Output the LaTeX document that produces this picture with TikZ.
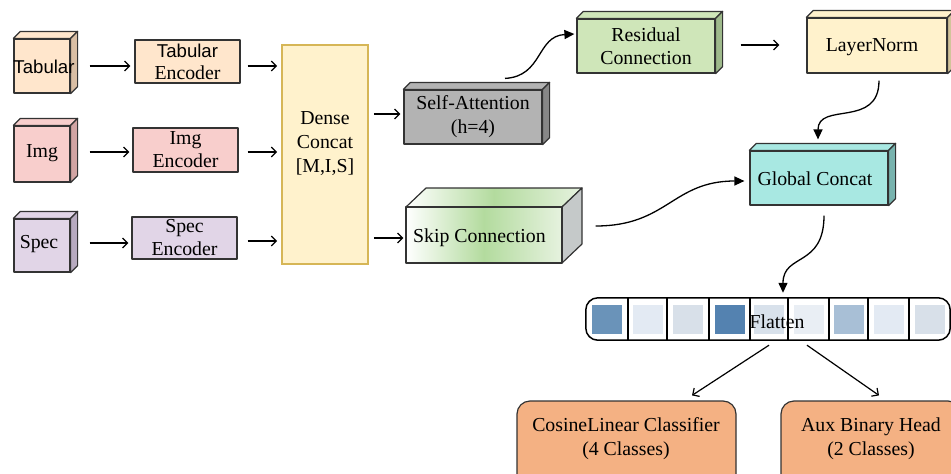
\documentclass[tikz,border=0pt]{standalone}
\usepackage{fontspec}
\setmainfont{Liberation Serif}
\newfontfamily\arialfont{Liberation Sans}
\usetikzlibrary{arrows.meta,calc}

\definecolor{strokec}{HTML}{333333}
\definecolor{tabF}{HTML}{FFE6CC}
\definecolor{tabS}{HTML}{D9BEA4}
\definecolor{imgF}{HTML}{F8CECC}
\definecolor{imgS}{HTML}{D1A4A3}
\definecolor{specF}{HTML}{E1D5E7}
\definecolor{specS}{HTML}{B7AABF}
\definecolor{denseF}{HTML}{FFF2CC}
\definecolor{denseD}{HTML}{D6B656}
\definecolor{saF}{HTML}{B3B3B3}
\definecolor{saS}{HTML}{878787}
\definecolor{resF}{HTML}{CFE6B9}
\definecolor{resS}{HTML}{9EB98B}
\definecolor{lnF}{HTML}{FFF2CC}
\definecolor{lnS}{HTML}{D2C49A}
\definecolor{globF}{HTML}{A8E8E2}
\definecolor{globS}{HTML}{78B3AE}
\definecolor{skipM}{HTML}{B3DB9E}
\definecolor{skipR}{HTML}{E6F2DF}
\definecolor{skipS}{HTML}{C5C9C9}
\definecolor{headF}{HTML}{F4B183}
\definecolor{sqA}{HTML}{6A93B9}
\definecolor{sqB}{HTML}{E3EAF3}
\definecolor{sqC}{HTML}{D8E0E9}
\definecolor{sqD}{HTML}{5482B0}
\definecolor{sqE}{HTML}{D8E1EB}
\definecolor{sqF}{HTML}{E9EEF4}
\definecolor{sqG}{HTML}{A8BFD6}

% top and right faces of a block drawn behind a front-face node
\newcommand\cubefaces[4]{%
  \draw[boxline, fill=#3] (#1.north west) -- ++(#2,-#2)
    -- ([shift={(#2,-#2)}]#1.north east) -- (#1.north east) -- cycle;
  \draw[boxline, fill=#4] (#1.north east) -- ++(#2,-#2)
    -- ([shift={(#2,-#2)}]#1.south east) -- (#1.south east) -- cycle;}

\tikzset{
  boxline/.style={draw=strokec, line width=1.2pt, line join=round},
  blockbox/.style={boxline, inner sep=0pt, align=center},
  arr/.style={draw=black, line width=1.2pt, -{Straight Barb[length=5pt,width=10pt]}},
  curvearr/.style={draw=black, line width=1.3pt, -{Triangle[length=10pt,width=9pt]}},
  txt/.style={inner sep=0pt, align=center},
}

\begin{document}
\begin{tikzpicture}[x=1pt, y=-1pt, font=\fontsize{19.8}{24}\selectfont]
\useasboundingbox (0,0) rectangle (951,474);
\clip (0,0) rectangle (951,474);

% ---- input blocks ----
\node[blockbox, fill=tabF, minimum width=56, minimum height=54] (tab) at (42,66) {};
\cubefaces{tab}{7}{tabF}{tabS}
\node[txt, font=\arialfont\fontsize{18.6}{22}\selectfont] (tabtxt) at (44,67) {Tabular};

\node[blockbox, fill=imgF, minimum width=56, minimum height=56] (img) at (42,154) {};
\cubefaces{img}{7}{imgF}{imgS}
\node[txt] (imgtxt) at (42,153) {Img};

\node[blockbox, fill=specF, minimum width=56, minimum height=53] (spec) at (42,245.5) {};
\cubefaces{spec}{7}{specF}{specS}
\node[txt] (spectxt) at (39,244) {Spec};

% ---- encoders ----
\node[blockbox, fill=tabF, minimum width=105, minimum height=43] (tabenc) at (187.5,61.5)
  {{\arialfont\fontsize{18.6}{22}\selectfont Tabular}\\[-2pt]Encoder};
\node[blockbox, fill=imgF, minimum width=105, minimum height=44] (imgenc) at (185.5,150)
  {Img\\[-1pt]Encoder};
\node[blockbox, fill=specF, minimum width=105, minimum height=42] (specenc) at (184.5,238)
  {Spec\\[-1pt]Encoder};

% ---- dense concatenation ----
\node[draw=denseD, fill=denseF, line width=1.8pt, inner sep=0pt,
      minimum width=86, minimum height=219] (dense) at (325,154.5) {};
\node[txt] (densetxt) at (325,144) {Dense\\Concat\\{[M,I,S]}};

% ---- attention branch ----
\node[blockbox, fill=saF, minimum width=138, minimum height=54] (sa) at (473,117)
  {Self-Attention\\(h=4)};
\cubefaces{sa}{7}{saF}{saS}

\node[blockbox, fill=resF, minimum width=138, minimum height=54] (res) at (646,46)
  {Residual\\[-1pt]Connection};
\cubefaces{res}{7}{resF}{resS}

\node[blockbox, fill=lnF, minimum width=140, minimum height=55] (ln) at (877,45.5) {};
\cubefaces{ln}{7}{lnF}{lnS}
\node[txt] (lntxt) at (872,47) {LayerNorm};

\node[blockbox, fill=globF, minimum width=138, minimum height=54] (glob) at (819,178) {};
\cubefaces{glob}{7}{globF}{globS}
\node[txt] (globtxt) at (815,179) {Global Concat};

% ---- skip branch ----
\coordinate (skipNW) at (406,207);
\coordinate (skipSE) at (562,263);
\fill[left color=white, right color=skipR, middle color=skipM]
  (skipNW) -- ++(20,-19) -- ($(skipSE|-skipNW)+(20,-19)$) -- (skipSE|-skipNW) -- cycle;
\draw[boxline] (skipNW) -- ++(20,-19) -- ($(skipSE|-skipNW)+(20,-19)$) -- (skipSE|-skipNW) -- cycle;
\draw[boxline, fill=skipS] (skipSE|-skipNW) -- ++(20,-19) -- ($(skipSE)+(20,-19)$) -- (skipSE) -- cycle;
\node[boxline, inner sep=0pt, minimum width=156, minimum height=56,
      left color=white, right color=skipR, middle color=skipM] (skip) at (484,235) {};
\node[txt, anchor=west] (skiptxt) at (413,238) {Skip Connection};

% ---- flatten bar ----
\node[draw=none, fill=white, rounded corners=12pt, inner sep=0pt,
      minimum width=364, minimum height=42] (flat) at (768,319) {};
\foreach \xa/\xb/\col in {586/628/sqA, 628/667/sqB, 667/709/sqC, 709/750/sqD,
    750/788/sqE, 788/829/sqF, 829/868/sqG, 868/909/sqB, 909/950/sqC}{
  \fill[\col] ({(\xa+\xb)/2-15},305) rectangle ({(\xa+\xb)/2+15},334);
}
\foreach \xd in {628,667,709,750,788,829,868,909}{
  \draw[black, line width=1.2pt] (\xd,298) -- (\xd,340);
}
\draw[black, line width=1.5pt, rounded corners=12pt] (flat.north west) rectangle (flat.south east);
\node[txt] (flattxt) at (777,322) {Flatten};

% ---- output heads ----
\node[boxline, fill=headF, rounded corners=13pt, inner sep=0pt,
      minimum width=219, minimum height=89] (cos) at (626.5,445.5) {};
\node[txt] (costxt) at (626,439) {CosineLinear Classifier\\(4 Classes)};
\node[boxline, fill=headF, rounded corners=13pt, inner sep=0pt,
      minimum width=180, minimum height=89] (aux) at (871,445.5) {};
\node[txt] (auxtxt) at (871,439) {Aux Binary Head\\(2 Classes)};

% ---- straight connectors ----
\draw[arr] ([xshift=19pt]tab.east) -- ([xshift=-4pt]tab.east -| tabenc.west);
\draw[arr] ([shift={(19,-2)}]img.east) -- ([shift={(-3,-2)}]img.east -| imgenc.west);
\draw[arr] ([shift={(19,-2.5)}]spec.east) -- ([shift={(-3,-2.5)}]spec.east -| specenc.west);
\draw[arr] ([xshift=7pt]tab.east -| tabenc.east) -- ([xshift=-4pt]tab.east -| dense.west);
\draw[arr] ([shift={(9,-2)}]img.east -| imgenc.east) -- ([shift={(-4,-2)}]img.east -| dense.west);
\draw[arr] ([shift={(10,3)}]specenc.east) -- ([shift={(-4,3)}]specenc.east -| dense.west);
\draw[arr] ([shift={(5,-3)}]sa.west -| dense.east) -- ([shift={(-3,-3)}]sa.west);
\draw[arr] ([shift={(5,3)}]skip.west -| dense.east) -- ([shift={(-2,3)}]skip.west);
\draw[arr] ([shift={(25,-1)}]res.east) -- ([shift={(-27,-1)}]res.east -| ln.west);
\draw[arr] ([shift={(1,5)}]flat.south) -- ([shift={(65.5,-5)}]cos.north);
\draw[arr] ([shift={(39,5)}]flat.south) -- ([shift={(8,-5)}]aux.north);

% ---- curved connectors ----
\draw[curvearr] ([shift={(32,-11)}]sa.north) .. controls +(38,-2) and +(-38,2) .. ([shift={(-2,-12)}]res.west);
\draw[curvearr] ([shift={(2,7)}]ln.south) .. controls +(0,48) and +(0,-38) .. ([shift={(-1,-11)}]glob.north);
\draw[curvearr] ([shift={(33,-9)}]skip.east) .. controls +(72,0) and +(-72,0) .. ([shift={(-5,3)}]glob.west);
\draw[curvearr] ([shift={(5,10)}]glob.south) .. controls +(0,52) and +(0,-40) .. ([shift={(15,-5)}]flat.north);
\end{tikzpicture}
\end{document}
